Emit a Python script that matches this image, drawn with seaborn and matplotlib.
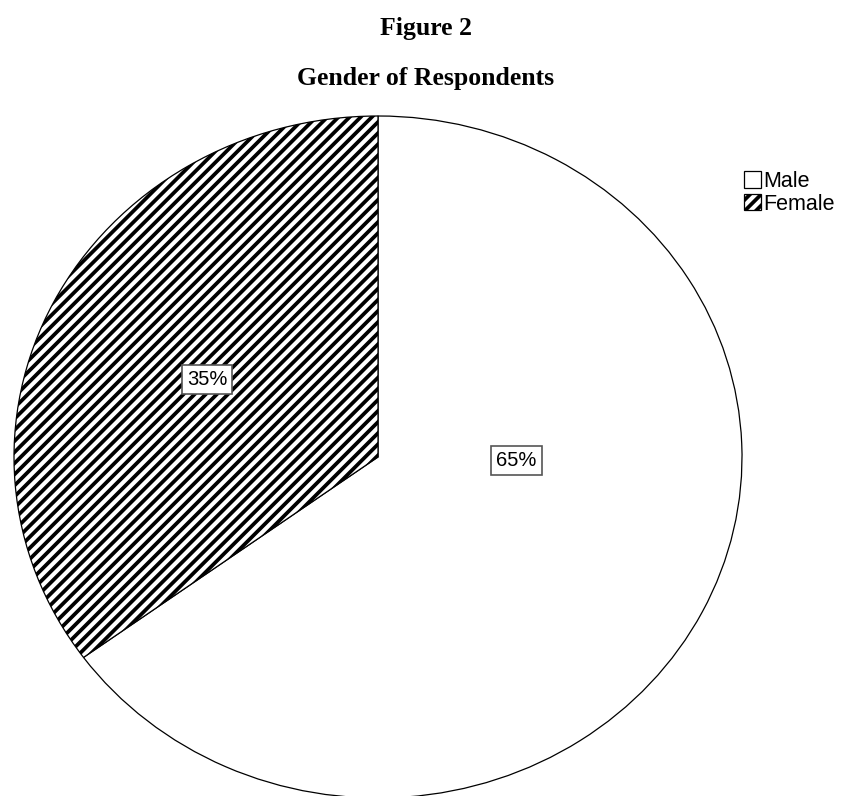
import matplotlib
matplotlib.use("Agg")
import matplotlib.pyplot as plt
import seaborn as sns

# ---- data ----
categories = ["Male", "Female"]
percentages = [65, 35]
pct_labels = ["65%", "35%"]
title_line1 = "Figure 2"
title_line2 = "Gender of Respondents"

sns.set_theme(style="white")
plt.rcParams["font.family"] = ["Liberation Sans", "DejaVu Sans"]
plt.rcParams["hatch.linewidth"] = 2.7
plt.rcParams["hatch.color"] = "black"
plt.rcParams["text.color"] = "black"

W, H = 851, 796
fig = plt.figure(figsize=(W / 100, H / 100), dpi=100)
fig.patch.set_facecolor("white")

# pie axes placed in pixel terms (slightly elliptical, clipped at bottom)
cx_left, cx_right = 14, 742
cy_top, cy_bot = 116, 798
ax = fig.add_axes([cx_left / W, (H - cy_bot) / H,
                   (cx_right - cx_left) / W, (cy_bot - cy_top) / H])

wedges, _ = ax.pie(percentages, startangle=90, counterclock=False,
                   colors=["white", "white"],
                   wedgeprops=dict(edgecolor="black", linewidth=0.9))
wedges[1].set_hatch("///")
ax.set_aspect("auto")
ax.set_xlim(-1, 1)
ax.set_ylim(-1, 1)
for sp in ax.spines.values():
    sp.set_visible(False)
ax.patch.set_alpha(0)

# label positions (data coords in pie axes)
label_pos = [(0.38, -0.01), (-0.47, 0.228)]
for txt, (x, y) in zip(pct_labels, label_pos):
    ax.text(x, y, txt, ha="center", va="center", fontsize=14.5, color="black",
            bbox=dict(boxstyle="square,pad=0.25", facecolor="white",
                      edgecolor="#555555", linewidth=1.2))

leg = fig.legend(wedges, categories, loc="upper left",
                 bbox_to_anchor=(744 / W, 1 - 171 / H),
                 frameon=False, fontsize=15.5,
                 handlelength=0.8, handleheight=0.8,
                 handletextpad=0.1, labelspacing=0.08,
                 borderpad=0.0, borderaxespad=0.0)
for t in leg.get_texts():
    t.set_color("black")

fig.text(0.5, 1 - 28 / H, title_line1, ha="center", va="center", color="black",
         fontsize=18.5, fontweight="bold", family=["Liberation Serif", "DejaVu Serif"])
fig.text(0.5, 1 - 78 / H, title_line2, ha="center", va="center", color="black",
         fontsize=18.5, fontweight="bold", family=["Liberation Serif", "DejaVu Serif"])

fig.savefig("out.png", dpi=100, facecolor="white")
